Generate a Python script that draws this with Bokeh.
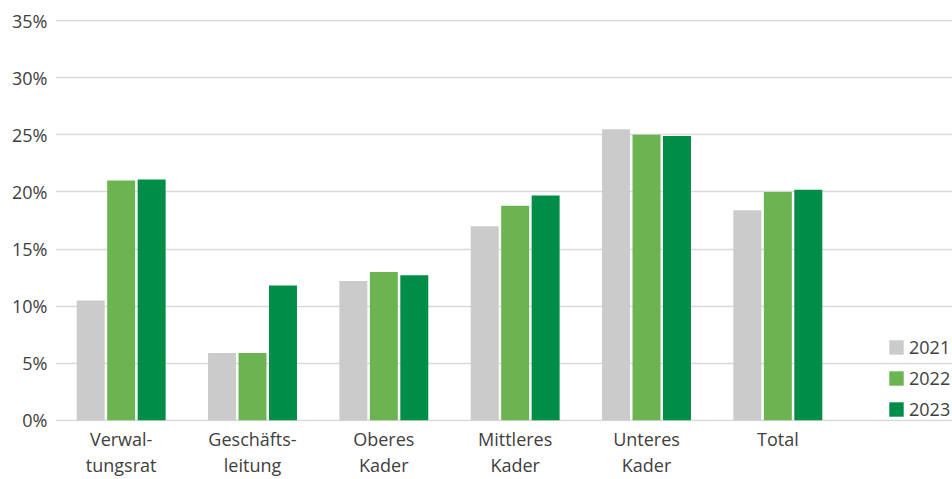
from bokeh.plotting import figure
from bokeh.models import (ColumnDataSource, Range1d, Legend, LegendItem,
                          FixedTicker, LinearAxis)
from bokeh.transform import dodge
from bokeh.embed import file_html
from bokeh.resources import INLINE

categories = ["Verwaltungsrat", "Geschäftsleitung", "Oberes Kader", "Mittleres Kader", "Unteres Kader", "Total"]
label_line1 = ["Verwal-", "Geschäfts-", "Oberes", "Mittleres", "Unteres", "Total"]
label_line2 = ["tungsrat", "leitung", "Kader", "Kader", "Kader", ""]
years = ["2021", "2022", "2023"]
v2021 = [10.5, 5.9, 12.2, 17.0, 25.5, 18.4]
v2022 = [21.0, 5.9, 13.0, 18.8, 25.0, 20.0]
v2023 = [21.1, 11.8, 12.7, 19.7, 24.9, 20.2]
y_ticks = [0, 5, 10, 15, 20, 25, 30, 35]
colors = ["#cbcbcb", "#6cb451", "#008d48"]

FONT = "Open Sans"
TXT = "#404040"
FS = "18px"

idx = list(range(len(categories)))
src = ColumnDataSource(dict(x=idx, cat=categories, v2021=v2021, v2022=v2022, v2023=v2023))

n = len(categories)
# frame spans x=55..952; categories occupy 55..843, legend sits in the remainder
extra = (952 - 843) / ((843 - 55) / n)
p = figure(width=952, height=479, x_range=Range1d(-0.5, n - 0.5 + extra),
           y_range=Range1d(-0.1, 35.1), output_backend="svg", toolbar_location=None,
           min_border_left=55, min_border_right=0, min_border_top=19, min_border_bottom=58)
p.outline_line_color = None
p.background_fill_color = "white"
p.border_fill_color = "white"

renderers = []
for off, col, yr, c in zip([-0.232, 0.0, 0.232], ["v2021", "v2022", "v2023"], years, colors):
    r = p.vbar(x=dodge("x", off), top=col, width=0.213, source=src,
               fill_color=c, line_color=None)
    renderers.append((yr, r))

p.xgrid.grid_line_color = None
p.ygrid.grid_line_color = "#d9d9d9"
p.ygrid.grid_line_width = 1.5
p.ygrid.bounds = (-0.5, n - 0.5)
p.yaxis.ticker = FixedTicker(ticks=y_ticks)
p.yaxis.major_label_overrides = {t: f"{t}%" for t in y_ticks}

p.xaxis.ticker = FixedTicker(ticks=idx)
p.xaxis.major_label_overrides = dict(zip(idx, label_line1))
ax2 = LinearAxis(ticker=FixedTicker(ticks=idx))
ax2.major_label_overrides = dict(zip(idx, label_line2))
p.add_layout(ax2, "below")

for ax in (p.xaxis[0], ax2, p.yaxis[0]):
    ax.axis_line_color = None
    ax.major_tick_line_color = None
    ax.minor_tick_line_color = None
    ax.major_label_text_font = FONT
    ax.major_label_text_font_size = FS
    ax.major_label_text_color = TXT
p.yaxis.major_label_standoff = 2
p.xaxis[0].major_label_standoff = -1
ax2.major_label_standoff = -7

legend = Legend(items=[LegendItem(label=yr, renderers=[r]) for yr, r in renderers],
                location=(832, 0), orientation="vertical",
                glyph_width=18, glyph_height=18, label_height=18, spacing=7,
                label_standoff=4, padding=0, margin=0,
                border_line_color=None, background_fill_alpha=0,
                label_text_font=FONT, label_text_font_size=FS, label_text_color=TXT)
p.add_layout(legend)

open("out.html", "w").write(file_html(p, INLINE))
